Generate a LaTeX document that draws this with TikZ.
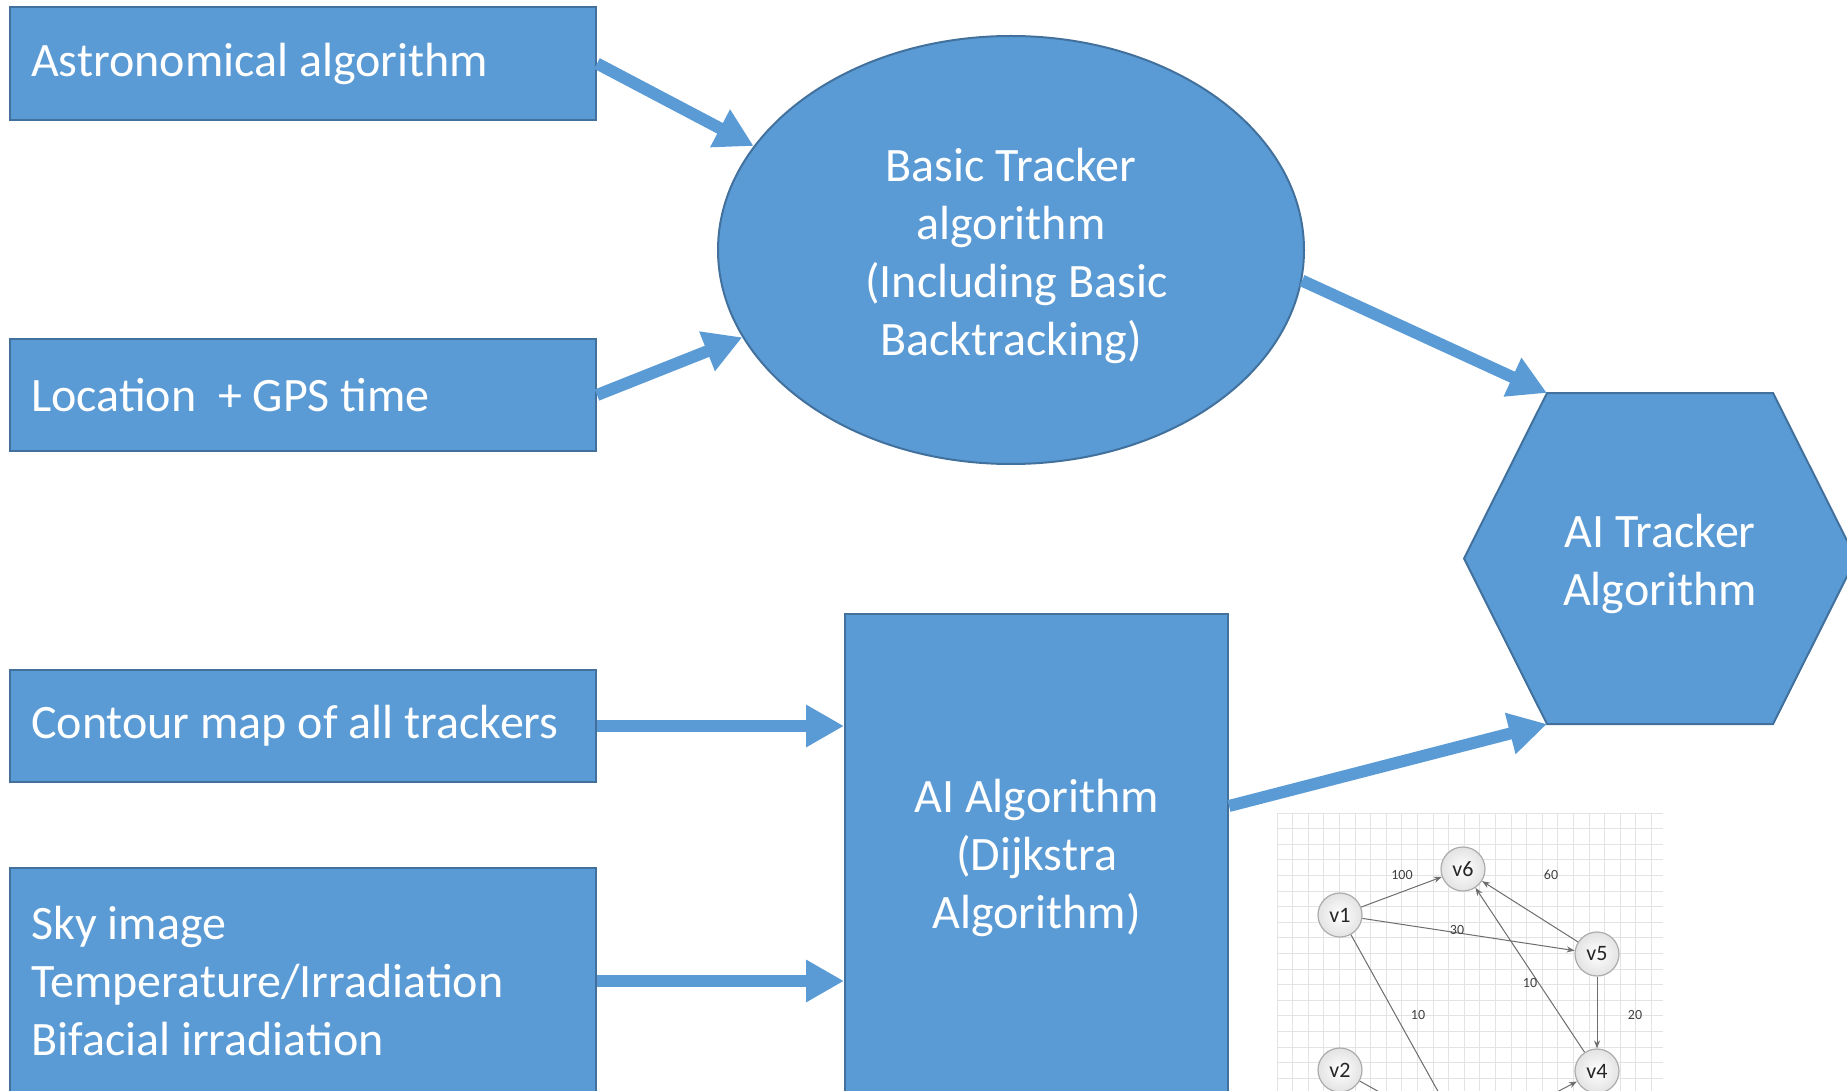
\documentclass[tikz,border=0pt]{standalone}
\usepackage{fontspec}
\setmainfont{Carlito}
\usetikzlibrary{shapes.geometric,arrows.meta,calc}
\definecolor{boxfill}{HTML}{5B9BD5}
\definecolor{boxline}{HTML}{41719C}
\definecolor{edgegray}{HTML}{6E6E6E}
\newcommand{\bigtext}{\fontsize{48}{58}\selectfont}
\begin{document}
\begin{tikzpicture}[x=1pt,y=-1pt,
  shapebase/.style={fill=boxfill,draw=boxline,line width=2pt,inner sep=0pt},
  inbox/.style={shapebase,rectangle,anchor=north west,minimum width=586pt},
  label/.style={text=white,font=\bigtext,align=center,inner sep=0pt},
  leftlabel/.style={text=white,font=\bigtext,align=left,inner sep=0pt,anchor=west},
  flow/.style={draw=boxfill,line width=12pt,
    -{Triangle[length=38pt,width=40pt]}},
  gridline/.style={draw=gray!22,line width=0.8pt},
  gnode/.style={circle,draw=gray!65,line width=1.2pt,minimum size=44pt,
    inner sep=0pt,shade,inner color=white,outer color=gray!22,
    text=black!85,font=\fontsize{22}{24}\selectfont},
  gedge/.style={draw=edgegray,line width=1pt,-{Stealth[length=8pt,width=6pt]}},
  glabel/.style={text=black!75,font=\fontsize{14}{16}\selectfont,inner sep=0pt}]
\clip (0,0) rectangle (1847,1091);
\fill[white] (0,0) rectangle (1847,1091);

% input boxes
\node[inbox,minimum height=113pt] (astro) at (9,6) {};
\node[inbox,minimum height=112pt] (loc) at (9,338) {};
\node[inbox,minimum height=112pt] (contour) at (9,669) {};
\node[inbox,minimum height=226pt] (sky) at (9,867) {};
\node[leftlabel] (astrotext) at (31,64) {Astronomical algorithm};
\node[leftlabel] (loctext) at (31,395) {Location\ \ + GPS time};
\node[leftlabel] (contourtext) at (31,726) {Contour map of all trackers};
\node[leftlabel] (skytext) at (31,981)
  {Sky image\\Temperature/Irradiation\\Bifacial irradiation};

% basic tracker ellipse
\node[shapebase,ellipse,minimum width=586pt,minimum height=428pt] (basic) at (1011,250) {};
\node[label] (basictext) at ([yshift=-6pt]basic.center)
  {Basic Tracker\\algorithm\\\ (Including Basic\\Backtracking)};

% AI algorithm block
\node[shapebase,rectangle,minimum width=383pt,minimum height=480pt] (ai) at (1036.5,854) {};
\node[label] (aitext) at ([yshift=-4pt]ai.center) {AI Algorithm\\(Dijkstra\\Algorithm)};

% AI tracker hexagon
\coordinate (h1) at (1547,393);
\coordinate (h2) at (1773,393);
\coordinate (h3) at (1856,558.5);
\coordinate (h4) at (1773,724);
\coordinate (h5) at (1547,724);
\coordinate (h6) at (1464,558.5);
\path[shapebase] (h1) -- (h2) -- (h3) -- (h4) -- (h5) -- (h6) -- cycle;
\node[label] (tracker) at (1660,564) {AI Tracker\\Algorithm};

% connectors
\coordinate (aiout) at ($(ai.north east)+(0,193)$);
\draw[flow] (astro.east) -- (basic.158);
\draw[flow] (loc.east) -- (basic.198);
\draw[flow] (basic.-6) -- (h1);
\draw[flow] (contour.east) -- (ai.west |- contour.east);
\draw[flow] (sky.east) -- (ai.west |- sky.east);
\draw[flow] (aiout) -- (h5);

% example shortest-path graph on a grid
\fill[white] (1277,813) rectangle (1663,1100);
\foreach \i in {0,...,24} {
  \draw[gridline] (1277+15.6*\i,813) -- (1277+15.6*\i,1100);
}
\foreach \j in {0,...,18} {
  \draw[gridline] (1277,813+15.6*\j) -- (1663,813+15.6*\j);
}
\node[gnode] (v6) at (1463,869) {v6};
\node[gnode] (v1) at (1340,915) {v1};
\node[gnode] (v5) at (1597,954) {v5};
\node[gnode] (v2) at (1340,1070) {v2};
\node[gnode] (v4) at (1597,1071) {v4};
\coordinate (v3) at (1465,1140);
\draw[gedge] (v1) -- (v6);
\draw[gedge] (v5) -- (v6);
\draw[gedge] (v1) -- (v5);
\draw[gedge] (v4) -- (v6);
\draw[gedge] (v5) -- (v4);
\draw[draw=edgegray,line width=1pt] (v1) -- (v3);
\draw[draw=edgegray,line width=1pt] (v2) -- (v3);
\draw[gedge] (v3) -- (v4);
\node[glabel] (l100) at (1402,875) {100};
\node[glabel] (l60) at (1551,875) {60};
\node[glabel] (l30) at (1457,930) {30};
\node[glabel] (l10a) at (1530,983) {10};
\node[glabel] (l20) at (1635,1015) {20};
\node[glabel] (l10b) at (1418,1015) {10};
\end{tikzpicture}
\end{document}
